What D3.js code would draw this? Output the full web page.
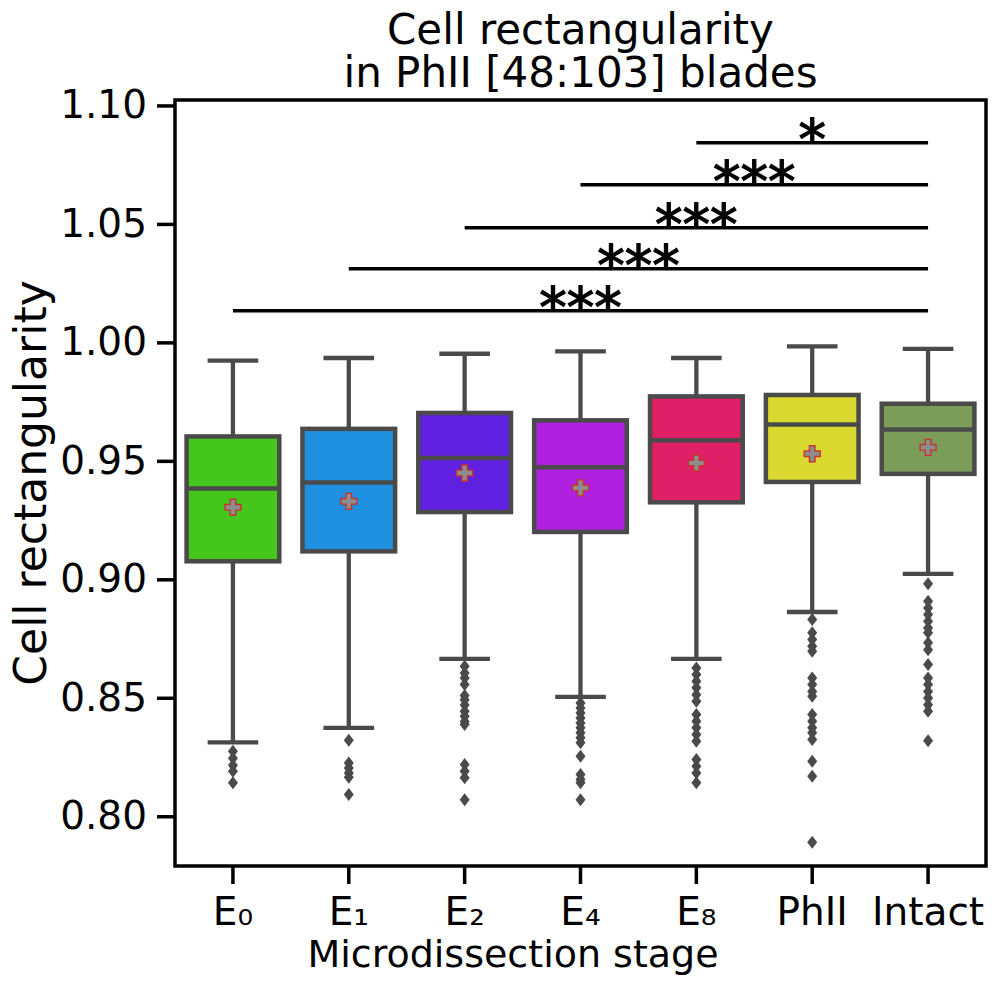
<!DOCTYPE html>
<html><head><meta charset="utf-8">
<script src="https://cdn.jsdelivr.net/npm/d3@7"></script>
<style>body{margin:0;background:#fff}svg{display:block}text{font-family:"DejaVu Sans",sans-serif}</style>
</head><body><svg id="c" width="992" height="985"></svg>
<script>
const categories = ["E\u2080","E\u2081","E\u2082","E\u2084","E\u2088","PhII","Intact"];
const whiskerLow  = [0.8312, 0.8373, 0.8664, 0.8504, 0.8664, 0.8862, 0.9023];
const q1Values    = [0.9076, 0.9118, 0.9284, 0.9200, 0.9325, 0.9411, 0.9445];
const medianValues= [0.9383, 0.9409, 0.9512, 0.9473, 0.9587, 0.9653, 0.9632];
const q3Values    = [0.9603, 0.9635, 0.9702, 0.9671, 0.9772, 0.9778, 0.9741];
const whiskerHigh = [0.9923, 0.9934, 0.9952, 0.9962, 0.9934, 0.9983, 0.9973];
const meanValues  = [0.9304, 0.9329, 0.9449, 0.9386, 0.9491, 0.9530, 0.9557];
const outliers = [
  [0.8274, 0.8245, 0.8215, 0.8190, 0.8141],
  [0.8321, 0.8225, 0.8204, 0.8183, 0.8165, 0.8092],
  [0.8633, 0.8605, 0.8584, 0.8556, 0.8510, 0.8492, 0.8470, 0.8443, 0.8422, 0.8400, 0.8387, 0.8218, 0.8190, 0.8162, 0.8070],
  [0.8478, 0.8457, 0.8436, 0.8415, 0.8394, 0.8373, 0.8352, 0.8331, 0.8310, 0.8253, 0.8176, 0.8155, 0.8141, 0.8070],
  [0.8626, 0.8598, 0.8570, 0.8542, 0.8513, 0.8485, 0.8429, 0.8401, 0.8373, 0.8345, 0.8316, 0.8239, 0.8211, 0.8183, 0.8141],
  [0.8830, 0.8774, 0.8746, 0.8717, 0.8696, 0.8584, 0.8556, 0.8527, 0.8506, 0.8429, 0.8401, 0.8373, 0.8352, 0.8324, 0.8232, 0.8169, 0.7890],
  [0.8981, 0.8907, 0.8879, 0.8851, 0.8823, 0.8795, 0.8774, 0.8732, 0.8703, 0.8640, 0.8584, 0.8556, 0.8527, 0.8499, 0.8471, 0.8443, 0.8319]
];
const boxColors = ["#44c61c","#1f8fdf","#5f20df","#b020df","#df2067","#d9d930","#7c9c5a"];
const yTicks = [0.80, 0.85, 0.90, 0.95, 1.00, 1.05, 1.10];
const sigFrom = ["E\u2080","E\u2081","E\u2082","E\u2084","E\u2088"];
const sigTo = "Intact";
const sigLevels = [1.0134, 1.0311, 1.0484, 1.0665, 1.0843];
const sigLabels = ["***","***","***","***","*"];
const titleLines = ["Cell rectangularity","in PhII [48:103] blades"];
const xLabel = "Microdissection stage";
const yLabel = "Cell rectangularity";

const svg = d3.select("#c");
const L = 175, R = 986, T = 100, B = 866;
const x = d3.scaleBand().domain(categories).range([L, R]).padding(0);
const y = d3.scaleLinear().domain([0.779, 1.1023]).range([B, T]);
const cx = c => x(c) + x.bandwidth()/2;
const boxW = x.bandwidth()*0.8;
const capW = boxW/2;
const gray = "#4a4a4a";

const data = categories.map((c,i)=>({c, lo:whiskerLow[i], q1:q1Values[i], med:medianValues[i], q3:q3Values[i], hi:whiskerHigh[i], mean:meanValues[i], out:outliers[i], col:boxColors[i]}));

const g = svg.append("g");
const bx = g.selectAll("g.box").data(data).join("g").attr("class","box");
bx.append("line").attr("x1",d=>cx(d.c)).attr("x2",d=>cx(d.c)).attr("y1",d=>y(d.q3)).attr("y2",d=>y(d.hi)).attr("stroke",gray).attr("stroke-width",4.3);
bx.append("line").attr("x1",d=>cx(d.c)).attr("x2",d=>cx(d.c)).attr("y1",d=>y(d.q1)).attr("y2",d=>y(d.lo)).attr("stroke",gray).attr("stroke-width",4.3);
bx.append("line").attr("x1",d=>cx(d.c)-capW/2).attr("x2",d=>cx(d.c)+capW/2).attr("y1",d=>y(d.hi)).attr("y2",d=>y(d.hi)).attr("stroke",gray).attr("stroke-width",4.3).attr("stroke-linecap","square");
bx.append("line").attr("x1",d=>cx(d.c)-capW/2).attr("x2",d=>cx(d.c)+capW/2).attr("y1",d=>y(d.lo)).attr("y2",d=>y(d.lo)).attr("stroke",gray).attr("stroke-width",4.3).attr("stroke-linecap","square");
bx.append("rect").attr("x",d=>cx(d.c)-boxW/2).attr("width",boxW).attr("y",d=>y(d.q3)).attr("height",d=>y(d.q1)-y(d.q3)).attr("fill",d=>d.col).attr("stroke",gray).attr("stroke-width",4.5);
bx.append("line").attr("x1",d=>cx(d.c)-boxW/2).attr("x2",d=>cx(d.c)+boxW/2).attr("y1",d=>y(d.med)).attr("y2",d=>y(d.med)).attr("stroke",gray).attr("stroke-width",4.5);
bx.each(function(d){
  d3.select(this).selectAll("path.out").data(d.out).join("path").attr("class","out")
    .attr("d", v=>{const X=cx(d.c),Y=y(v);return `M${X},${Y-6.5}L${X+5},${Y}L${X},${Y+6.5}L${X-5},${Y}Z`;})
    .attr("fill",gray);
});
const s=8,t=2.8;
const plusPath = `M${-t},${-s}H${t}V${-t}H${s}V${t}H${t}V${s}H${-t}V${t}H${-s}V${-t}H${-t}Z`;
bx.append("path").attr("d",plusPath).attr("transform",d=>`translate(${cx(d.c)},${y(d.mean)})`)
  .attr("fill","#8d8d8d").attr("stroke","#c8342c").attr("stroke-width",1.4);

const sg = svg.append("g");
sigFrom.forEach((c,i)=>{
  const yy = y(sigLevels[i]);
  sg.append("line").attr("x1",cx(c)).attr("x2",cx(sigTo)).attr("y1",yy).attr("y2",yy).attr("stroke","#000").attr("stroke-width",3.5);
  sg.append("text").attr("x",(cx(c)+cx(sigTo))/2).attr("y",yy+16).attr("text-anchor","middle").attr("font-size",55)
    .attr("fill","#000").attr("stroke","#000").attr("stroke-width",1.3).text(sigLabels[i]);
});

const yAxis = d3.axisLeft(y).tickValues(yTicks).tickFormat(d3.format(".2f")).tickSize(18).tickPadding(10);
const ya = svg.append("g").attr("transform",`translate(${L},0)`).call(yAxis);
const xAxis = d3.axisBottom(x).tickSize(18).tickPadding(13);
const xa = svg.append("g").attr("transform",`translate(0,${B})`).call(xAxis);
[ya,xa].forEach(a=>{
  a.select(".domain").remove();
  a.selectAll(".tick line").attr("stroke","#000").attr("stroke-width",3.5);
  a.selectAll(".tick text").attr("font-size",39).attr("fill","#000").attr("font-family","DejaVu Sans");
});
svg.append("rect").attr("x",L).attr("y",T).attr("width",R-L).attr("height",B-T).attr("fill","none").attr("stroke","#000").attr("stroke-width",3.5);

svg.append("g").selectAll("text").data(titleLines).join("text")
  .attr("x",(L+R)/2).attr("y",(d,i)=>44+i*43).attr("text-anchor","middle").attr("font-size",42).attr("fill","#000").text(d=>d);
svg.append("text").attr("x",513).attr("y",967).attr("text-anchor","middle").attr("font-size",38).attr("fill","#000").text(xLabel);
svg.append("text").attr("transform",`translate(46,${(T+B)/2}) rotate(-90)`).attr("text-anchor","middle").attr("font-size",44).attr("fill","#000").text(yLabel);
</script></body></html>
